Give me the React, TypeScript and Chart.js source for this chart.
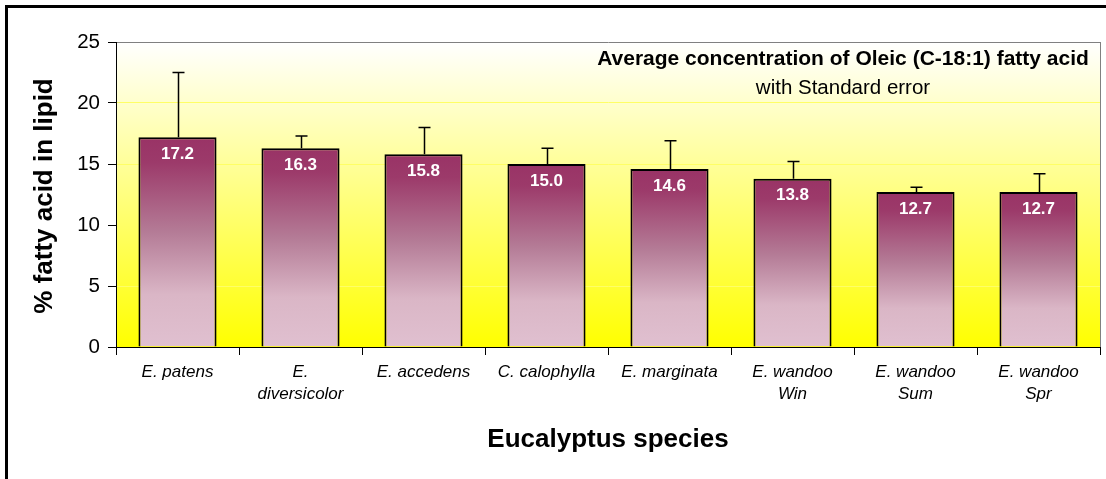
import React, { useEffect, useRef } from 'react';
import { Chart, registerables } from 'chart.js';

Chart.register(...registerables);

const categories: string[][] = [
  ['E. patens'],
  ['E.', 'diversicolor'],
  ['E. accedens'],
  ['C. calophylla'],
  ['E. marginata'],
  ['E. wandoo', 'Win'],
  ['E. wandoo', 'Sum'],
  ['E. wandoo', 'Spr'],
];
const means = [17.2, 16.3, 15.8, 15.0, 14.6, 13.8, 12.7, 12.7];
const stdErrors = [5.3, 1.0, 2.2, 1.3, 2.3, 1.4, 0.4, 1.5];
const yMin = 0;
const yMax = 25;
const yStep = 5;
const chartTitle = 'Average concentration of Oleic (C-18:1) fatty acid';
const chartSubtitle = 'with Standard error';
const yTitle = '% fatty acid in lipid';
const xTitle = 'Eucalyptus species';

const FONT = '"Liberation Sans", Arial, sans-serif';

const decorPlugin = {
  id: 'decor',
  beforeDraw(chart: any) {
    const { ctx, chartArea } = chart;
    if (!chartArea) return;
    ctx.save();
    ctx.fillStyle = '#ffffff';
    ctx.fillRect(0, 0, chart.width, chart.height);
    const g = ctx.createLinearGradient(0, chartArea.top, 0, chartArea.bottom);
    g.addColorStop(0, '#ffffff');
    g.addColorStop(1, '#ffff00');
    ctx.fillStyle = g;
    ctx.fillRect(chartArea.left, chartArea.top, chartArea.right - chartArea.left, chartArea.bottom - chartArea.top);
    ctx.restore();
  },
  afterDatasetsDraw(chart: any) {
    const { ctx, chartArea, scales } = chart;
    const meta = chart.getDatasetMeta(0);
    ctx.save();
    // error bars
    ctx.strokeStyle = '#000000';
    ctx.lineWidth = 1.5;
    meta.data.forEach((bar: any, i: number) => {
      const yTop = scales.y.getPixelForValue(means[i] + stdErrors[i]);
      const x = Math.round(bar.x) + 0.5;
      ctx.beginPath();
      ctx.moveTo(x, bar.y);
      ctx.lineTo(x, yTop);
      ctx.moveTo(x - 6, yTop);
      ctx.lineTo(x + 6, yTop);
      ctx.stroke();
    });
    // value labels
    ctx.fillStyle = '#ffffff';
    ctx.font = `bold 17px ${FONT}`;
    ctx.textAlign = 'center';
    ctx.textBaseline = 'middle';
    meta.data.forEach((bar: any, i: number) => {
      ctx.fillText(means[i].toFixed(1), bar.x, bar.y + 17);
    });
    // right border of plot
    ctx.strokeStyle = '#808080';
    ctx.lineWidth = 1;
    ctx.beginPath();
    ctx.moveTo(chartArea.right + 0.5, chartArea.top);
    ctx.lineTo(chartArea.right + 0.5, chartArea.bottom);
    ctx.stroke();
    // chart title inside plot
    ctx.fillStyle = '#000000';
    const cx = 843;
    ctx.font = `bold 21px ${FONT}`;
    ctx.fillText(chartTitle, cx, 59);
    ctx.font = `20.5px ${FONT}`;
    ctx.fillText(chartSubtitle, cx, 88);
    ctx.restore();
  },
  afterDraw(chart: any) {
    const { ctx, chartArea } = chart;
    ctx.save();
    ctx.fillStyle = '#000000';
    ctx.textAlign = 'center';
    ctx.textBaseline = 'middle';
    ctx.font = `bold 26px ${FONT}`;
    ctx.fillText(xTitle, (chartArea.left + chartArea.right) / 2, 440);
    ctx.translate(45, 196);
    ctx.rotate(-Math.PI / 2);
    ctx.fillText(yTitle, 0, 0);
    ctx.restore();
    ctx.save();
    ctx.fillStyle = '#000000';
    ctx.fillRect(5, 5, 3, chart.height);
    ctx.fillRect(5, 5, chart.width, 3);
    ctx.restore();
  },
};

export default function App() {
  const ref = useRef<HTMLCanvasElement>(null);
  useEffect(() => {
    document.body.style.margin = '0';
    const canvas = ref.current!;
    const chart = new Chart(canvas, {
      type: 'bar',
      data: {
        labels: categories,
        datasets: [
          {
            data: means,
            borderColor: '#000000',
            borderWidth: 2,
            categoryPercentage: 1,
            barPercentage: 0.635,
            backgroundColor: (c: any) => {
              const ch = c.chart;
              const sc = ch.scales?.y;
              if (!sc || c.type !== 'data') return '#993366';
              const top = sc.getPixelForValue(means[c.dataIndex]);
              const base = sc.getPixelForValue(0);
              if (!isFinite(top) || !isFinite(base) || base <= top) return '#993366';
              const g = ch.ctx.createLinearGradient(0, top, 0, base);
              g.addColorStop(0, '#993366');
              g.addColorStop(0.12, '#9c3a6a');
              g.addColorStop(0.45, '#b47b96');
              g.addColorStop(0.75, '#dab6c6');
              g.addColorStop(1, '#e0c0d0');
              return g;
            },
          },
        ],
      },
      options: {
        responsive: false,
        animation: false,
        layout: { padding: { left: 0, right: 6, top: 42, bottom: 0 } },
        plugins: { legend: { display: false }, tooltip: { enabled: false }, title: { display: false } },
        scales: {
          x: {
            offset: true,
            border: { display: true, color: '#000000', width: 1 },
            grid: {
              offset: true,
              drawOnChartArea: false,
              drawTicks: true,
              tickLength: 8,
              tickColor: '#000000',
            },
            ticks: {
              color: '#000000',
              padding: 7,
              maxRotation: 0,
              autoSkip: false,
              font: { family: FONT, size: 17, style: 'italic', lineHeight: 1.25 },
            },
            afterFit: (s: any) => {
              s.height = 132;
            },
          },
          y: {
            min: yMin,
            max: yMax,
            border: { display: true, color: '#000000', width: 1 },
            grid: {
              color: (c: any) =>
                c.tick && c.tick.value === yMax ? '#808080' : c.tick && c.tick.value === yMin ? '#000000' : '#ffff66',
              lineWidth: 1,
              tickLength: 8,
              tickColor: '#000000',
            },
            ticks: {
              stepSize: yStep,
              color: '#000000',
              padding: 8,
              font: { family: FONT, size: 20.5 },
            },
            afterFit: (s: any) => {
              s.width = 116;
            },
          },
        },
      },
      plugins: [decorPlugin],
    });
    return () => chart.destroy();
  }, []);
  return <canvas ref={ref} width={1106} height={479} style={{ display: 'block' }} />;
}
